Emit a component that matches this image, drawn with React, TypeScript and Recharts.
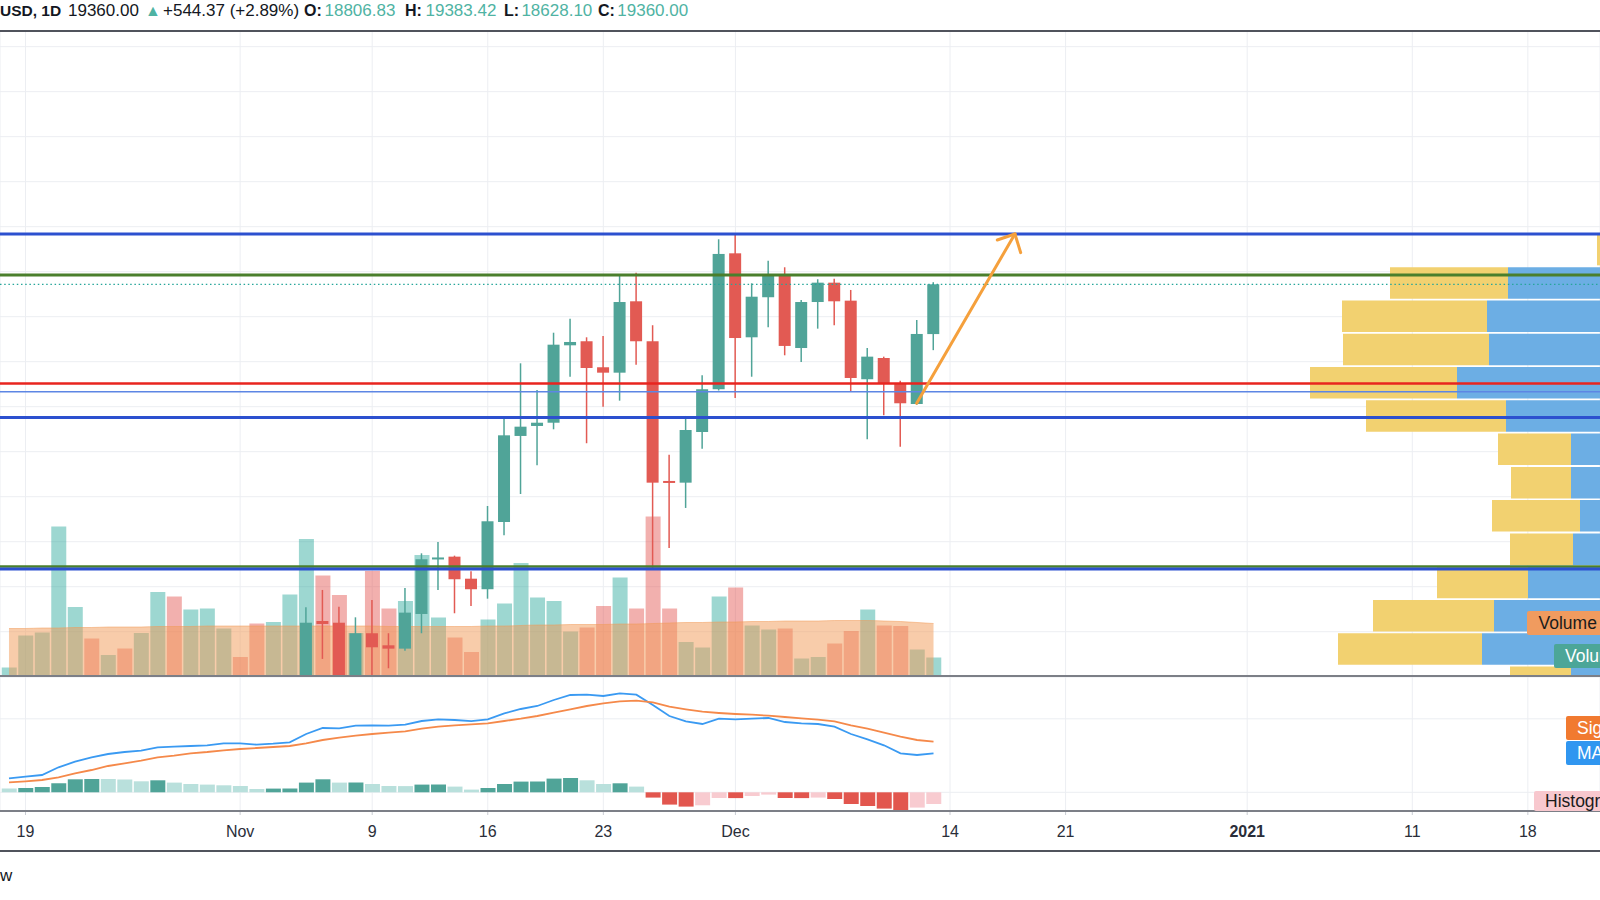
import React from 'react';
import {
  ComposedChart, BarChart, Bar, Line, Area, XAxis, YAxis, CartesianGrid, ReferenceLine, Cell,
} from 'recharts';

// ---------------- categories ----------------
const DAYS = [
  'Oct 18', 'Oct 19', 'Oct 20', 'Oct 21', 'Oct 22', 'Oct 23', 'Oct 24', 'Oct 25', 'Oct 26', 'Oct 27', 'Oct 28', 'Oct 29', 'Oct 30', 'Oct 31',
  'Nov 1', 'Nov 2', 'Nov 3', 'Nov 4', 'Nov 5', 'Nov 6', 'Nov 7', 'Nov 8', 'Nov 9', 'Nov 10', 'Nov 11', 'Nov 12', 'Nov 13', 'Nov 14', 'Nov 15',
  'Nov 16', 'Nov 17', 'Nov 18', 'Nov 19', 'Nov 20', 'Nov 21', 'Nov 22', 'Nov 23', 'Nov 24', 'Nov 25', 'Nov 26', 'Nov 27', 'Nov 28', 'Nov 29', 'Nov 30',
  'Dec 1', 'Dec 2', 'Dec 3', 'Dec 4', 'Dec 5', 'Dec 6', 'Dec 7', 'Dec 8', 'Dec 9', 'Dec 10', 'Dec 11', 'Dec 12', 'Dec 13',
];
// x-axis ticks (day index counted from Oct 18, 2020) and their labels
const TICK_DAY = [1, 14, 22, 29, 36, 44, 57, 64, 75, 85, 92];
const TICK_LABELS = ['19', 'Nov', '9', '16', '23', 'Dec', '14', '21', '2021', '11', '18'];

// ---------------- candles (first visible candle: Nov 5 = index 18) ----------------
const CANDLE_FROM = 18;
const OPEN = [14200, 15619, 15600, 14830, 15483, 15349, 15312, 15697, 16305, 16334, 16089, 15972, 16719, 17675, 17786, 17822, 18682, 18727, 18438, 18378, 19171, 18727, 17175, 17156, 17719, 18194, 19704, 18771, 19216, 19460, 18652, 19163, 19378, 19178, 18305, 18541, 18252, 18030, 18806.83];
const HIGH = [15772, 15964, 15778, 15660, 15853, 15483, 15986, 16371, 16497, 16345, 16171, 16897, 17867, 18482, 18186, 18822, 18978, 18771, 18786, 19452, 19489, 18905, 17467, 17897, 18349, 19860, 19925, 19371, 19622, 19549, 19186, 19416, 19422, 19297, 18652, 18556, 18289, 18963, 19383.42];
const LOW = [14100, 15198, 14350, 14720, 14800, 15094, 15289, 15483, 15964, 15705, 15786, 15867, 16571, 17030, 17349, 17749, 18333, 17594, 18000, 18067, 18467, 16208, 16430, 16875, 17534, 18180, 18097, 18333, 18882, 18571, 18497, 18867, 18905, 18171, 17638, 17905, 17556, 18022, 18628.10];
const CLOSE = [15600, 15586, 14830, 15483, 15327, 15312, 15712, 16305, 16325, 16083, 15972, 16727, 17682, 17778, 17822, 18689, 18719, 18430, 18378, 19163, 18727, 17156, 17153, 17741, 18194, 19697, 18763, 19222, 19452, 18675, 19163, 19378, 19171, 18319, 18556, 18252, 18038, 18808, 19360.00];

// ---------------- volume (thousands) ----------------
const VOLUME = [1.7, 8.1, 8.7, 29.9, 13.8, 7.5, 4.2, 5.5, 8.6, 16.8, 15.9, 13.3, 13.5, 9.5, 3.8, 10.5, 10.8, 16.3, 27.4, 20.1, 16.2, 8.6, 21.0, 13.5, 15.0, 24.2, 11.7, 7.7, 4.8, 11.3, 14.5, 22.6, 15.7, 15.0, 8.9, 9.7, 14.0, 19.7, 13.5, 31.9, 13.5, 6.8, 5.7, 15.9, 17.7, 10.1, 9.3, 9.5, 3.5, 3.8, 6.5, 9.0, 13.3, 10.1, 10.0, 5.3, 3.7];
const VOLUME_UP = [1, 1, 1, 1, 1, 0, 1, 0, 1, 1, 0, 1, 1, 1, 0, 0, 1, 1, 1, 0, 0, 1, 0, 0, 1, 1, 1, 0, 0, 1, 1, 1, 1, 1, 1, 0, 0, 1, 0, 0, 0, 1, 1, 1, 0, 1, 1, 0, 1, 1, 0, 0, 1, 0, 0, 1, 1];
const VOLUME_MA = [9.5, 9.5, 9.6, 9.6, 9.7, 9.7, 9.8, 9.8, 9.8, 9.9, 9.9, 9.9, 10.0, 10.0, 10.0, 10.0, 10.0, 10.0, 10.0, 10.0, 10.0, 10.0, 10.0, 9.9, 9.9, 9.9, 9.9, 9.9, 9.9, 10.0, 10.0, 10.1, 10.2, 10.2, 10.3, 10.3, 10.3, 10.4, 10.4, 10.5, 10.6, 10.7, 10.7, 10.8, 10.8, 10.9, 10.9, 11.0, 11.0, 11.0, 11.1, 11.1, 11.1, 11.0, 10.9, 10.7, 10.5];

// ---------------- MACD ----------------
const MACD = [140, 156, 173, 250, 306, 350, 383, 403, 416, 450, 456, 463, 470, 490, 490, 476, 486, 500, 583, 643, 640, 666, 670, 666, 676, 713, 730, 723, 712, 730, 790, 833, 863, 923, 973, 976, 963, 990, 976, 873, 763, 710, 683, 736, 730, 736, 743, 703, 690, 683, 656, 583, 530, 470, 390, 373, 390];
const SIGNAL = [100, 110, 123, 150, 190, 223, 263, 290, 316, 350, 366, 390, 403, 420, 433, 443, 453, 463, 490, 523, 546, 566, 583, 596, 610, 636, 656, 670, 680, 690, 713, 736, 763, 796, 830, 863, 890, 910, 916, 900, 856, 830, 806, 793, 783, 776, 766, 753, 740, 726, 710, 670, 636, 596, 556, 523, 506];
const HIST = [37, 43, 53, 90, 130, 133, 133, 127, 110, 120, 97, 83, 77, 70, 63, 33, 37, 38, 97, 130, 97, 98, 83, 63, 62, 77, 78, 57, 27, 43, 83, 107, 108, 137, 143, 120, 83, 90, 57, -53, -123, -143, -130, -57, -58, -37, -23, -57, -58, -53, -67, -117, -137, -163, -183, -153, -117];

// ---------------- visible range volume profile ----------------
const PROFILE_PRICE = [19747, 19377, 19007, 18637, 18268, 17898, 17528, 17158, 16789, 16419, 16049, 15679, 15310, 14940];
const PROFILE_UP = [34, 132, 153, 151, 183, 134, 69, 69, 60, 67, 112, 146, 158, 69];
const PROFILE_DOWN = [9, 118, 145, 146, 147, 140, 73, 60, 88, 63, 91, 121, 144, 61];

// ---------------- drawn levels ----------------
const LEVEL_TOP_BLUE = 19920;
const LEVEL_GREEN = 19463;
const LEVEL_LAST = 19360;
const LEVEL_RED = 18258;
const LEVEL_THIN_BLUE = 18166;
const LEVEL_BLUE = 17880;
const LEVEL_LOW_GREEN = 16225;
const LEVEL_LOW_BLUE = 16197;
const ARROW_FROM = { x: 54.98, y: 18038 };
const ARROW_TO = { x: 60.93, y: 19919 };
const ARROW_BARB_L = { x: 59.86, y: 19852 };
const ARROW_BARB_R = { x: 61.28, y: 19711 };

// ---------------- layout / style ----------------
const W = 1600;
const PANE_TOP = 31;
const PANE_H = 645;
const MACD_TOP = 677;
const MACD_H = 174;
const X_DOMAIN: [number, number] = [-0.545, 96.37];
const PRICE_DOMAIN: [number, number] = [15008, 22174];
const PRICE_TICKS = [15500, 16000, 16500, 17000, 17500, 18000, 18500, 19000, 19500, 20000, 20500, 21000, 21500, 22000];
const VOL_DOMAIN: [number, number] = [0, 129];
const MACD_DOMAIN: [number, number] = [-187, 1153];
const PROFILE_DOMAIN: [number, number] = [0, 1640];
const M0 = { top: 0, right: 0, bottom: 0, left: 0 };
const FONT = '"Liberation Sans", Arial, sans-serif';
const DARK = '#131722';
const UP = '#50a498';
const DOWN = '#e25a53';
const GRID = '#eceef2';

const rows = DAYS.map((date, i) => {
  const k = i - CANDLE_FROM;
  const has = k >= 0 && k < OPEN.length;
  return {
    i,
    date,
    open: has ? OPEN[k] : null,
    high: has ? HIGH[k] : null,
    low: has ? LOW[k] : null,
    close: has ? CLOSE[k] : null,
    range: has ? [LOW[k], HIGH[k]] : null,
    vol: VOLUME[i],
    volUp: VOLUME_UP[i] === 1,
    volMA: VOLUME_MA[i],
    macd: MACD[i],
    signal: SIGNAL[i],
    hist: HIST[i],
  };
});

const profileRows = PROFILE_PRICE.map((price, k) => ({ price, up: PROFILE_UP[k], down: PROFILE_DOWN[k] }));

const histColor = (i: number) => {
  const v = HIST[i];
  const p = i > 0 ? HIST[i - 1] : v + 1;
  if (v >= 0) return v > p ? '#50a498' : '#b9e0dc';
  return v < p ? '#e2564e' : '#f8cbd0';
};

const Candle = (props: any) => {
  const { x, width, payload } = props;
  let { y, height } = props;
  if (!payload || payload.open == null || !isFinite(y) || !isFinite(height)) return null;
  if (height < 0) { y += height; height = -height; }
  const { open, close, high, low } = payload;
  const per = height / (high - low);
  const yO = y + (high - open) * per;
  const yC = y + (high - close) * per;
  const color = close >= open ? UP : DOWN;
  const top = Math.min(yO, yC);
  const bh = Math.max(Math.abs(yO - yC), 2);
  const cx = x + width / 2;
  return (
    <g>
      <line x1={cx} x2={cx} y1={y} y2={y + height} stroke={color} strokeWidth={1.5} />
      <rect x={x} y={top} width={width} height={bh} fill={color} />
    </g>
  );
};

const DateTick = (props: any) => {
  const { x, y, payload } = props;
  const k = TICK_DAY.indexOf(payload.value);
  const label = k >= 0 ? TICK_LABELS[k] : '';
  return (
    <text x={x} y={y} dy={22} textAnchor="middle" fontFamily={FONT} fontSize={16}
      fontWeight={label === '2021' ? 700 : 400} fill="#2a2e39">{label}</text>
  );
};

const hiddenX = () => (
  <XAxis dataKey="i" type="number" domain={X_DOMAIN} allowDataOverflow hide ticks={TICK_DAY} />
);

const layer = (top: number, z: number): React.CSSProperties => ({ position: 'absolute', left: 0, top, zIndex: z });

const HeaderText = () => {
  const last = OPEN.length - 1;
  const segs = [
    { x: 0, t: 'USD, 1D', b: true, c: DARK, s: 15.5 },
    { x: 68, t: CLOSE[last].toFixed(2), c: DARK },
    { x: 145, t: '▲', c: '#4fb3a3', s: 16 },
    { x: 163, t: '+544.37 (+2.89%)', c: DARK },
    { x: 304, t: 'O:', b: true, c: DARK, s: 16 },
    { x: 324.5, t: OPEN[last].toFixed(2), c: '#4fb3a3' },
    { x: 405, t: 'H:', b: true, c: DARK, s: 16 },
    { x: 425.5, t: HIGH[last].toFixed(2), c: '#4fb3a3' },
    { x: 504, t: 'L:', b: true, c: DARK, s: 16 },
    { x: 521.4, t: LOW[last].toFixed(2), c: '#4fb3a3' },
    { x: 598, t: 'C:', b: true, c: DARK, s: 16 },
    { x: 617.3, t: CLOSE[last].toFixed(2), c: '#4fb3a3' },
  ];
  return (
    <>
      {segs.map((s, k) => (
        <div key={k} style={{
          position: 'absolute', left: s.x, top: 1, height: 20, lineHeight: '20px',
          fontSize: s.s ?? 17, fontWeight: s.b ? 700 : 400, color: s.c, whiteSpace: 'nowrap', fontFamily: FONT,
        }}>{s.t}</div>
      ))}
    </>
  );
};

const Badge = ({ left, top, height, bg, color, text, pad }: any) => (
  <div style={{
    position: 'absolute', left, top, height, width: 160, background: bg, color, fontSize: 17.5,
    lineHeight: `${height}px`, paddingLeft: pad, whiteSpace: 'nowrap', borderRadius: 2, fontFamily: FONT, zIndex: 20,
  }}>{text}</div>
);

const Sep = ({ top, color, h = 2 }: any) => (
  <div style={{ position: 'absolute', left: 0, top, width: W, height: h, background: color, zIndex: 15 }} />
);

export default function App() {
  return (
    <div style={{
      position: 'fixed', left: 0, top: 0, width: W, height: 900, overflow: 'hidden', background: '#ffffff', fontFamily: FONT,
    }}>
      <HeaderText />
      <Sep top={30} color="#50535c" />

      {/* grid + volume bars */}
      <div style={layer(PANE_TOP, 1)}>
        <ComposedChart width={W} height={PANE_H} data={rows} margin={M0}>
          <CartesianGrid stroke={GRID} strokeWidth={1} yAxisId="p" />
          {hiddenX()}
          <YAxis yAxisId="p" type="number" domain={PRICE_DOMAIN} allowDataOverflow hide ticks={PRICE_TICKS} />
          <YAxis yAxisId="v" type="number" domain={VOL_DOMAIN} allowDataOverflow hide />
          <Bar yAxisId="v" dataKey="vol" barSize={15} isAnimationActive={false}>
            {rows.map((r, k) => (
              <Cell key={k} fill={r.volUp ? 'rgba(38,166,154,0.45)' : 'rgba(226,80,76,0.45)'} />
            ))}
          </Bar>
        </ComposedChart>
      </div>

      {/* visible range volume profile */}
      <div style={layer(PANE_TOP, 2)}>
        <BarChart width={1640} height={PANE_H} data={profileRows} layout="vertical" margin={M0}>
          <XAxis type="number" domain={PROFILE_DOMAIN} reversed allowDataOverflow hide />
          <YAxis type="number" dataKey="price" domain={PRICE_DOMAIN} reversed allowDataOverflow hide />
          <Bar dataKey="up" stackId="p" fill="#6caee4" barSize={31.5} isAnimationActive={false} />
          <Bar dataKey="down" stackId="p" fill="#f2d170" barSize={31.5} isAnimationActive={false} />
        </BarChart>
      </div>

      {/* volume MA */}
      <div style={layer(PANE_TOP, 3)}>
        <ComposedChart width={W} height={PANE_H} data={rows} margin={M0}>
          {hiddenX()}
          <YAxis type="number" domain={VOL_DOMAIN} allowDataOverflow hide />
          <Area dataKey="volMA" type="monotone" fill="#f19955" fillOpacity={0.5} stroke="#f19955" strokeOpacity={0.5}
            strokeWidth={1} isAnimationActive={false} dot={false} activeDot={false} />
        </ComposedChart>
      </div>

      {/* candles */}
      <div style={layer(PANE_TOP, 4)}>
        <ComposedChart width={W} height={PANE_H} data={rows} margin={M0}>
          {hiddenX()}
          <YAxis type="number" domain={PRICE_DOMAIN} allowDataOverflow hide />
          <Bar dataKey="range" barSize={12} shape={Candle} isAnimationActive={false} />
        </ComposedChart>
      </div>

      {/* horizontal levels and arrow */}
      <div style={layer(PANE_TOP, 5)}>
        <ComposedChart width={W} height={PANE_H} data={rows} margin={M0}>
          {hiddenX()}
          <YAxis type="number" domain={PRICE_DOMAIN} allowDataOverflow hide />
          <ReferenceLine y={LEVEL_TOP_BLUE} stroke="#2c50cf" strokeWidth={3} />
          <ReferenceLine y={LEVEL_GREEN} stroke="#4a7f2c" strokeWidth={3} />
          <ReferenceLine y={LEVEL_LAST} stroke="#26a69a" strokeWidth={1.3} strokeDasharray="1.5 2.7" />
          <ReferenceLine y={LEVEL_RED} stroke="#e8251f" strokeWidth={2.5} />
          <ReferenceLine y={LEVEL_THIN_BLUE} stroke="#5d86e4" strokeWidth={1.6} />
          <ReferenceLine y={LEVEL_BLUE} stroke="#2c50cf" strokeWidth={3} />
          <ReferenceLine y={LEVEL_LOW_GREEN} stroke="#4a7f2c" strokeWidth={2.5} />
          <ReferenceLine y={LEVEL_LOW_BLUE} stroke="#2c50cf" strokeWidth={3} />
          <ReferenceLine segment={[ARROW_FROM, ARROW_TO]} stroke="#f5a03c" strokeWidth={3} strokeLinecap="round" />
          <ReferenceLine segment={[ARROW_BARB_L, ARROW_TO]} stroke="#f5a03c" strokeWidth={3} strokeLinecap="round" />
          <ReferenceLine segment={[ARROW_BARB_R, ARROW_TO]} stroke="#f5a03c" strokeWidth={3} strokeLinecap="round" />
        </ComposedChart>
      </div>

      <Sep top={675} color="#7c7f87" />

      {/* MACD pane with date axis */}
      <div style={layer(MACD_TOP, 6)}>
        <ComposedChart width={W} height={MACD_H} data={rows} margin={M0}>
          <CartesianGrid stroke={GRID} strokeWidth={1} />
          <XAxis dataKey="i" type="number" domain={X_DOMAIN} allowDataOverflow ticks={TICK_DAY} height={40}
            axisLine={false} tickLine={{ stroke: '#c9ccd3' }} tickSize={4} tickMargin={0} tick={DateTick} interval={0} />
          <YAxis type="number" domain={MACD_DOMAIN} allowDataOverflow hide ticks={[0, 735]} />
          <Bar dataKey="hist" barSize={15} isAnimationActive={false}>
            {rows.map((r, k) => <Cell key={k} fill={histColor(k)} />)}
          </Bar>
          <Line dataKey="macd" type="linear" stroke="#3a9af2" strokeWidth={1.8} dot={false} activeDot={false} isAnimationActive={false} />
          <Line dataKey="signal" type="linear" stroke="#f5894a" strokeWidth={1.8} dot={false} activeDot={false} isAnimationActive={false} />
        </ComposedChart>
      </div>

      <Sep top={810} color="#7c7f87" />
      <Sep top={850} color="#50535c" />

      <Badge left={1527} top={611} height={24} bg="#f09b5f" color="#1b1b1b" text="Volume MA" pad={11.5} />
      <Badge left={1554} top={644} height={24} bg="#4ca698" color="#ffffff" text="Volume" pad={11} />
      <Badge left={1566} top={716} height={24} bg="#f17a30" color="#ffffff" text="Signal" pad={11} />
      <Badge left={1566} top={741} height={24} bg="#3096f0" color="#ffffff" text="MACD" pad={11} />
      <Badge left={1534} top={791} height={20} bg="#f8c8ce" color="#1b1b1b" text="Histogram" pad={11} />

      <div style={{ position: 'absolute', left: 0, top: 866, fontSize: 17, color: DARK, fontFamily: FONT }}>w</div>
    </div>
  );
}
